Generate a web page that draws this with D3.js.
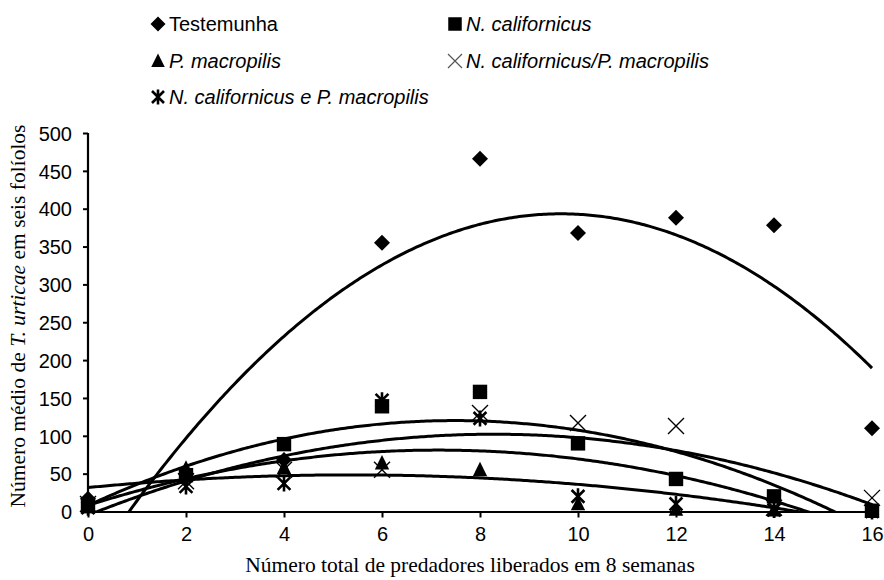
<!DOCTYPE html>
<html>
<head>
<meta charset="utf-8">
<script src="https://cdn.jsdelivr.net/npm/d3@7"></script>
<style>
  body { margin: 0; background: #fff; }
  svg text { fill: #000; }
</style>
</head>
<body>
<div id="chart"></div>
<script>
// predators released (x) and mean mite counts per treatment
const doses = [0, 2, 4, 6, 8, 10, 12, 14, 16];
const testemunha = [17, 50, 68, 355, 466, 368, 388, 378, 110];
const nCalifornicus = [7, 48, 89, 139, 158, 90, 43, 20, 1];
const pMacropilis = [10, 57, 58, 64, 55, 10, 3, 2, 0];
const ncBarraPm = [10, 40, 55, 55, 130, 117, 113, 5, 18];
const ncEPm = [5, 33, 37, 147, 123, 20, 10, 2, 0];
const yTicks = [0, 50, 100, 150, 200, 250, 300, 350, 400, 450, 500];
const xTicks = [0, 2, 4, 6, 8, 10, 12, 14, 16];

const series = [
  { name: "Testemunha", values: testemunha, marker: "diamond", italic: false },
  { name: "N. californicus", values: nCalifornicus, marker: "square", italic: true },
  { name: "P. macropilis", values: pMacropilis, marker: "triangle", italic: true },
  { name: "N. californicus/P. macropilis", values: ncBarraPm, marker: "x", italic: true },
  { name: "N. californicus e P. macropilis", values: ncEPm, marker: "star", italic: true },
];

const w = 884, h = 580;
const plotLeft = 88, plotRight = 872, plotTop = 133, plotBottom = 511.5;

const svg = d3.select("#chart").append("svg")
  .attr("width", w).attr("height", h);

const x = d3.scaleLinear().domain([0, 16]).range([plotLeft, plotRight]);
const y = d3.scaleLinear().domain([0, 500]).range([plotBottom, plotTop]);

// quadratic least squares, like the spreadsheet trendline
const fitQuad = (xs, ys) => {
  const s = [0, 0, 0, 0, 0], t = [0, 0, 0];
  xs.forEach((xi, i) => {
    for (let k = 0; k < 5; k++) s[k] += Math.pow(xi, k);
    for (let k = 0; k < 3; k++) t[k] += ys[i] * Math.pow(xi, k);
  });
  const m = [
    [s[0], s[1], s[2], t[0]],
    [s[1], s[2], s[3], t[1]],
    [s[2], s[3], s[4], t[2]],
  ];
  for (let c = 0; c < 3; c++) {
    for (let r = c + 1; r < 3; r++) {
      const f = m[r][c] / m[c][c];
      for (let k = c; k < 4; k++) m[r][k] -= f * m[c][k];
    }
  }
  const b = [0, 0, 0];
  for (let r = 2; r >= 0; r--) {
    let v = m[r][3];
    for (let k = r + 1; k < 3; k++) v -= m[r][k] * b[k];
    b[r] = v / m[r][r];
  }
  return (v) => b[0] + b[1] * v + b[2] * v * v;
};

svg.append("clipPath").attr("id", "plotClip")
  .append("rect")
  .attr("x", plotLeft).attr("y", plotTop - 20)
  .attr("width", plotRight - plotLeft + 2).attr("height", plotBottom - plotTop + 20);

// trendlines
const line = d3.line().x((d) => x(d[0])).y((d) => y(d[1]));
const steps = d3.range(0, 16.001, 0.05);
series.forEach((s) => {
  const f = fitQuad(doses, s.values);
  svg.append("path")
    .attr("clip-path", "url(#plotClip)")
    .attr("d", line(steps.map((v) => [v, f(v)])))
    .attr("fill", "none")
    .attr("stroke", "#000")
    .attr("stroke-width", 3);
});

// markers
const drawMarker = (g, type, size) => {
  const r = size / 2;
  if (type === "diamond") {
    g.append("path").attr("d", `M0,${-r}L${r},0L0,${r}L${-r},0Z`).attr("fill", "#000");
  } else if (type === "square") {
    g.append("rect").attr("x", -r * 0.9).attr("y", -r * 0.9)
      .attr("width", r * 1.8).attr("height", r * 1.8).attr("fill", "#000");
  } else if (type === "triangle") {
    g.append("path").attr("d", `M0,${-r}L${r * 0.9},${r * 0.8}L${-r * 0.9},${r * 0.8}Z`).attr("fill", "#000");
  } else if (type === "x") {
    g.append("path").attr("d", `M${-r},${-r}L${r},${r}M${-r},${r}L${r},${-r}`)
      .attr("stroke", "#000").attr("stroke-width", 1.4);
  } else {
    const q = r * 0.8;
    g.append("path").attr("d", `M${-q},${-q}L${q},${q}M${-q},${q}L${q},${-q}M0,${-r}L0,${r}`)
      .attr("stroke", "#000").attr("stroke-width", 2.6);
  }
};

series.forEach((s) => {
  s.values.forEach((v, i) => {
    const g = svg.append("g").attr("transform", `translate(${x(doses[i])},${y(v)})`);
    drawMarker(g, s.marker, 16);
  });
});

// axes
const yAxis = svg.append("g").attr("transform", `translate(${plotLeft},0)`)
  .call(d3.axisLeft(y).tickValues(yTicks).tickSize(5).tickSizeOuter(0).tickPadding(11));
const xAxis = svg.append("g").attr("transform", `translate(0,${plotBottom})`)
  .call(d3.axisBottom(x).tickValues(xTicks).tickSize(6).tickSizeOuter(0).tickPadding(9));
[yAxis, xAxis].forEach((a) => {
  a.select(".domain").attr("stroke", "#000").attr("stroke-width", 2.2);
  a.selectAll(".tick line").attr("stroke", "#000").attr("stroke-width", 2);
  a.selectAll(".tick text")
    .attr("font-family", "Liberation Sans, Arial, sans-serif")
    .attr("font-size", 20).attr("fill", "#000");
});
yAxis.selectAll(".tick text").attr("dy", "0.36em");
yAxis.select(".domain").attr("d", `M0,${plotBottom}V${plotTop}`);

// axis titles
svg.append("text")
  .attr("x", 470).attr("y", 572)
  .attr("text-anchor", "middle")
  .attr("font-family", "Liberation Serif, Times New Roman, serif")
  .attr("font-size", 21.5)
  .text("Número total de predadores liberados em 8 semanas");

const yTitle = svg.append("text")
  .attr("transform", "translate(25,316) rotate(-90)")
  .attr("text-anchor", "middle")
  .attr("font-family", "Liberation Serif, Times New Roman, serif")
  .attr("font-size", 21.5);
yTitle.append("tspan").text("Número médio de ");
yTitle.append("tspan").attr("font-style", "italic").text("T. urticae");
yTitle.append("tspan").text(" em seis folíolos");

// legend
const legendPos = [
  { x: 158, y: 24 }, { x: 455, y: 24 },
  { x: 158, y: 61 }, { x: 455, y: 61 },
  { x: 158, y: 97 },
];
series.forEach((s, i) => {
  const p = legendPos[i];
  const g = svg.append("g").attr("transform", `translate(${p.x},${p.y})`);
  if (s.marker === "x") {
    g.append("path").attr("d", "M-7,-7L7,7M-7,7L7,-7")
      .attr("stroke", "#555").attr("stroke-width", 1.2);
  } else {
    drawMarker(g, s.marker, 15);
  }
  g.append("text")
    .attr("x", 11).attr("y", 7)
    .attr("font-family", "Liberation Sans, Arial, sans-serif")
    .attr("font-size", 20)
    .attr("font-style", s.italic ? "italic" : "normal")
    .text(s.name);
});
</script>
</body>
</html>
